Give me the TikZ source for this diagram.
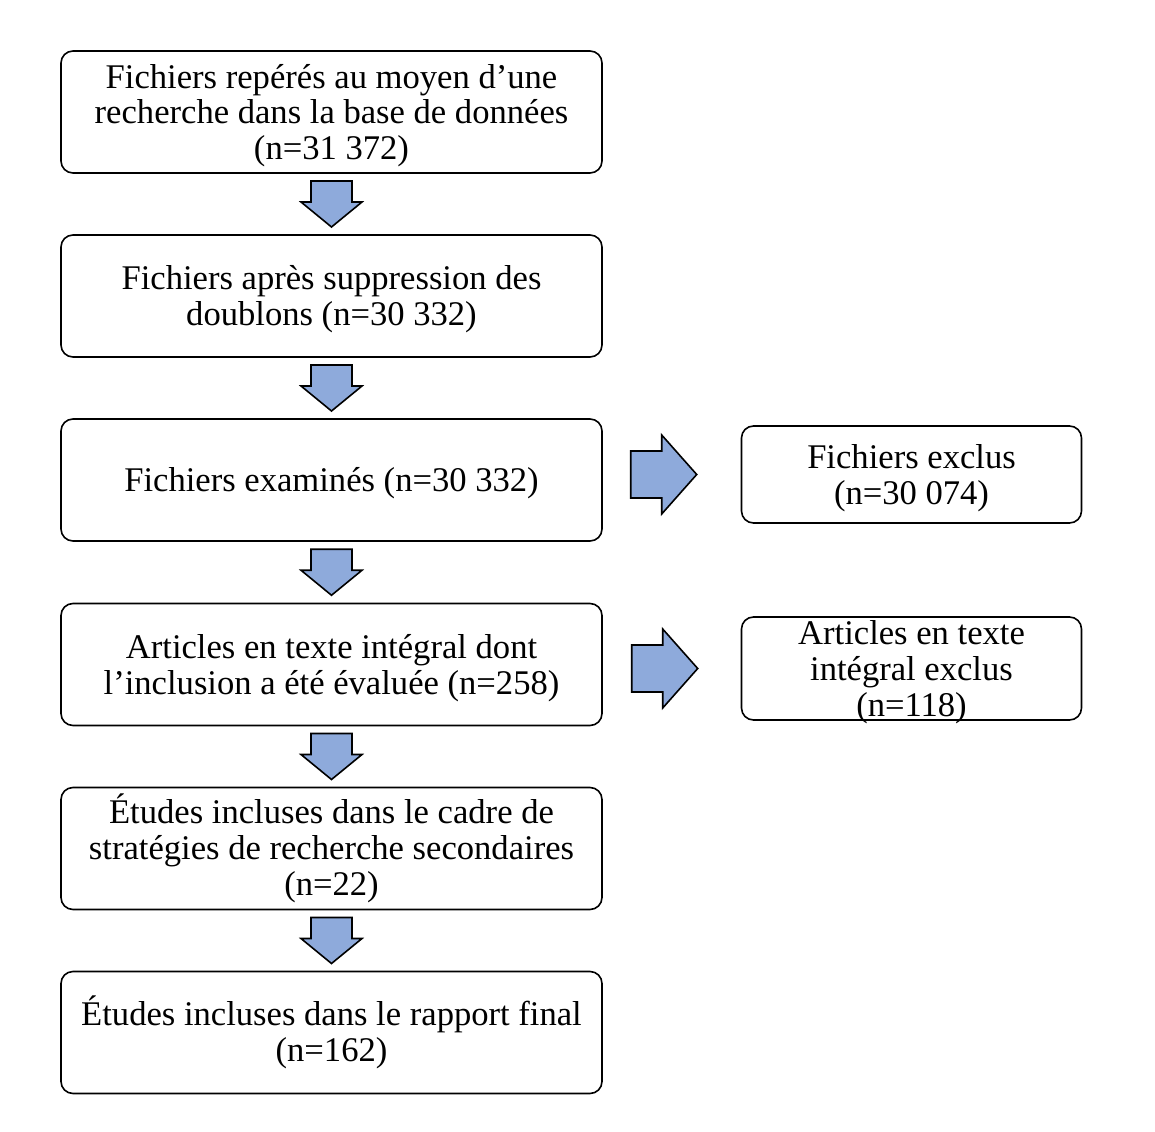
\documentclass[tikz,border=0pt]{standalone}
\usepackage{fontspec}
\setmainfont{Liberation Serif}
\usetikzlibrary{calc}
\definecolor{arrowblue}{RGB}{142,170,219}
\newcommand{\topline}{\rule{0pt}{0.9em}}

\begin{document}
\begin{tikzpicture}[x=1pt,y=-1pt]
\tikzset{every node/.style={font=\fontsize{34.6}{35.8}\selectfont},
  box/.style={draw,line width=1.6pt,rounded corners=12pt,minimum width=541pt,minimum height=122pt,align=center,inner sep=0pt},
  sidebox/.style={draw,line width=1.6pt,rounded corners=12pt,minimum width=340pt,align=center,inner sep=0pt},
  arrfill/.style={draw,line width=1.6pt,fill=arrowblue,line join=miter},
  downarr/.pic={\path[arrfill] (-20.5,-23) -- (20.5,-23) -- (20.5,-2) -- (30.5,-2) -- (0,23) -- (-30.5,-2) -- (-20.5,-2) -- cycle;},
  rightarr/.pic={\path[arrfill] (-33,-23.5) -- (-2,-23.5) -- (-2,-39.5) -- (33,0) -- (-2,39.5) -- (-2,23.5) -- (-33,23.5) -- cycle;}}

\useasboundingbox (0,0) rectangle (1155,1131);

% Main column
\node[box] (b1) at (331.5,112) {\topline Fichiers repérés au moyen d’une\\recherche dans la base de données\\(n=31 372)};
\node[box] (b2) at (331.5,296) {\topline Fichiers après suppression des\\doublons (n=30 332)};
\node[box] (b3) at (331.5,480) {\topline Fichiers examinés (n=30 332)};
\node[box] (b4) at (331.5,664.5) {\topline Articles en texte intégral dont\\l’inclusion a été évaluée (n=258)};
\node[box] (b5) at (331.5,848.5) {Études incluses dans le cadre de\\stratégies de recherche secondaires\\(n=22)};
\node[box] (b6) at (331.5,1032.5) {Études incluses dans le rapport final\\(n=162)};

% Excluded
\node[sidebox,minimum height=97pt] (ex1) at (911.5,474.5) {\topline Fichiers exclus\\(n=30 074)};
\node[sidebox,minimum height=103pt] (ex2) at (911.5,668.5) {};
\node[align=center,inner sep=0pt] (ex2t) at (ex2.center) {\topline Articles en texte\\intégral exclus\\(n=118)};

% Arrows
\pic at ($(b1.south)!0.5!(b2.north)$) {downarr};
\pic at ($(b2.south)!0.5!(b3.north)$) {downarr};
\pic at ($(b3.south)!0.5!(b4.north)$) {downarr};
\pic at ($(b4.south)!0.5!(b5.north)$) {downarr};
\pic at ($(b5.south)!0.5!(b6.north)$) {downarr};
\pic at ($(ex1.west)+(-77,0)$) {rightarr};
\pic at ($(ex2.west)+(-76,0)$) {rightarr};

\end{tikzpicture}
\end{document}
